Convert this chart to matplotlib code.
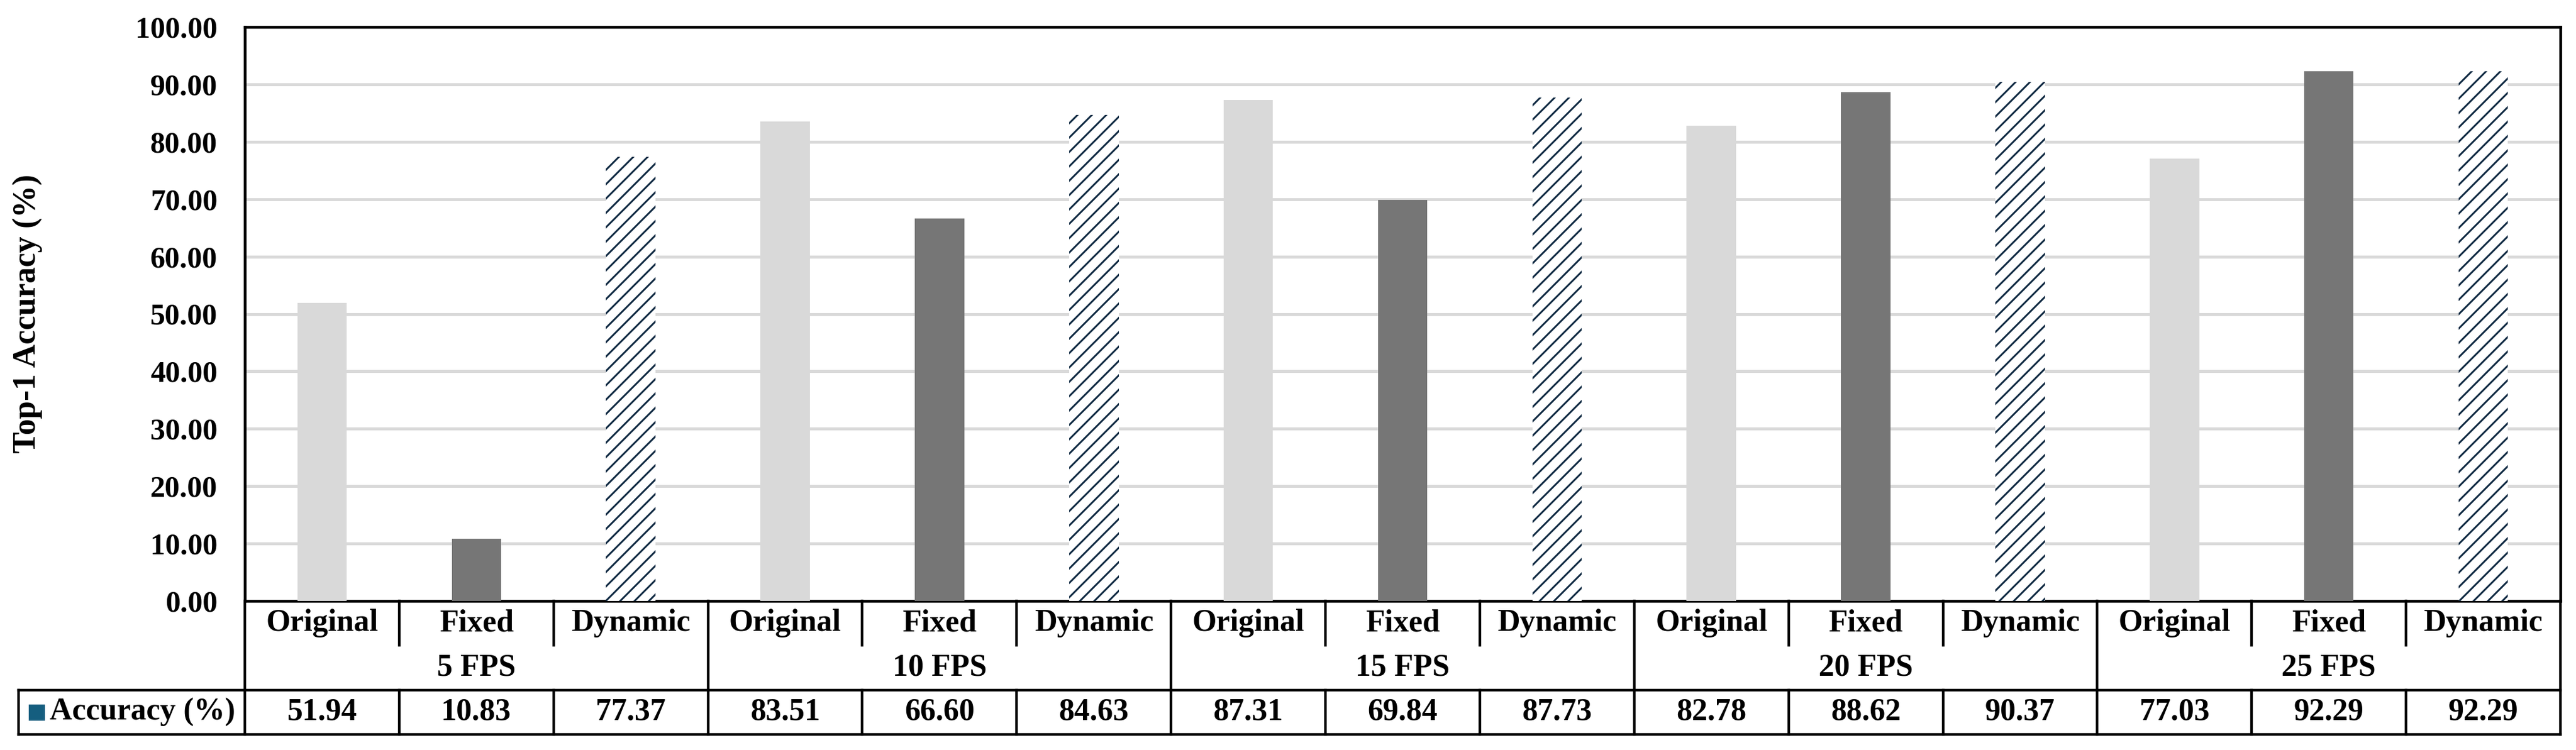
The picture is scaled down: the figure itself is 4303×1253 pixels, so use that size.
import matplotlib
matplotlib.use("Agg")
import matplotlib.pyplot as plt
from matplotlib.patches import Rectangle

# data
fps_groups = ["5 FPS", "10 FPS", "15 FPS", "20 FPS", "25 FPS"]
methods = ["Original", "Fixed", "Dynamic"]
original_acc = [51.94, 83.51, 87.31, 82.78, 77.03]
fixed_acc = [10.83, 66.60, 69.84, 88.62, 92.29]
dynamic_acc = [77.37, 84.63, 87.73, 90.37, 92.29]
yticks = [0, 10, 20, 30, 40, 50, 60, 70, 80, 90, 100]
row_label = "Accuracy (%)"

plt.rcParams["font.family"] = ["Liberation Serif", "DejaVu Serif"]
plt.rcParams["font.weight"] = "bold"
plt.rcParams["hatch.linewidth"] = 1.5

W, H, DPI = 4303, 1253, 144
fig = plt.figure(figsize=(W / DPI, H / DPI), dpi=DPI)

# layout in pixels
ax_l, ax_r, ax_t, ax_b = 409, 4277, 45, 1004
tb_b = 1227
ax = fig.add_axes([ax_l / W, 1 - ax_b / H, (ax_r - ax_l) / W, (ax_b - ax_t) / H])
tax = fig.add_axes([ax_l / W, 1 - tb_b / H, (ax_r - ax_l) / W, (tb_b - ax_b) / H])

n_groups = len(fps_groups)
n_m = len(methods)
series = [original_acc, fixed_acc, dynamic_acc]
styles = [
    dict(color="#D9D9D9"),
    dict(color="#767676"),
    dict(facecolor="white", edgecolor="#0E2841", linewidth=0, hatch="//"),
]
bar_w = 0.32
for m, (vals, st) in enumerate(zip(series, styles)):
    xs = [g * n_m + m for g in range(n_groups)]
    ax.bar(xs, vals, width=bar_w, zorder=3, **st)

xmin, xmax = -0.5, n_groups * n_m - 0.5
ax.set_xlim(xmin, xmax)
ax.set_ylim(0, 100)
ax.set_yticks(yticks)
ax.set_yticklabels([f"{v:.2f}" for v in yticks], fontsize=25, fontweight="bold")
ax.set_xticks([])
ax.tick_params(axis="y", length=0, pad=23)
ax.grid(axis="y", color="#D9D9D9", linewidth=2.5, zorder=0)
ax.set_axisbelow(True)
for sp in ax.spines.values():
    sp.set_linewidth(2.3)
    sp.set_color("black")

fig.text(46 / W, 1 - 524 / H, "Top-1 Accuracy (%)", rotation=90,
         ha="center", va="center", fontsize=27, fontweight="bold")

# table below the axis
tax.set_xlim(xmin, xmax)
tax.set_ylim(3, 0)
tax.axis("off")
lw = 2.2
kw = dict(color="black", linewidth=lw, clip_on=False, solid_capstyle="projecting")
cell_px = (ax_r - ax_l) / (n_groups * n_m)
leg_left = xmin - (ax_l - 31) / cell_px

for g in range(n_groups + 1):
    x = xmin + g * n_m
    tax.plot([x, x], [0, 3], **kw)
for g in range(n_groups):
    for k in (1, 2):
        x = xmin + g * n_m + k
        tax.plot([x, x], [0, 1], **kw)
        tax.plot([x, x], [2, 3], **kw)
tax.plot([leg_left, xmax], [2, 2], **kw)
tax.plot([leg_left, xmax], [3, 3], **kw)
tax.plot([leg_left, leg_left], [2, 3], **kw)

fs = 26
for g, grp in enumerate(fps_groups):
    tax.text(g * n_m + 1, 1.5, grp, ha="center", va="center", fontsize=fs, fontweight="bold")
    for m, name in enumerate(methods):
        x = g * n_m + m
        tax.text(x, 0.5, name, ha="center", va="center", fontsize=fs, fontweight="bold")
        tax.text(x, 2.5, f"{series[m][g]:.2f}", ha="center", va="center",
                 fontsize=fs, fontweight="bold")

# legend key cell
sq_x0 = xmin - (ax_l - 48) / cell_px
sq_w = 27 / cell_px
row_px = (tb_b - ax_b) / 3
tax.add_patch(Rectangle((sq_x0, 2 + (1174 - 1150) / row_px), sq_w, 27 / row_px,
                        facecolor="#155E7F", edgecolor="none", clip_on=False))
tax.text(xmin - (ax_l - 83) / cell_px, 2.5, row_label, ha="left", va="center",
         fontsize=fs, fontweight="bold")

fig.savefig("out.png", dpi=DPI)
